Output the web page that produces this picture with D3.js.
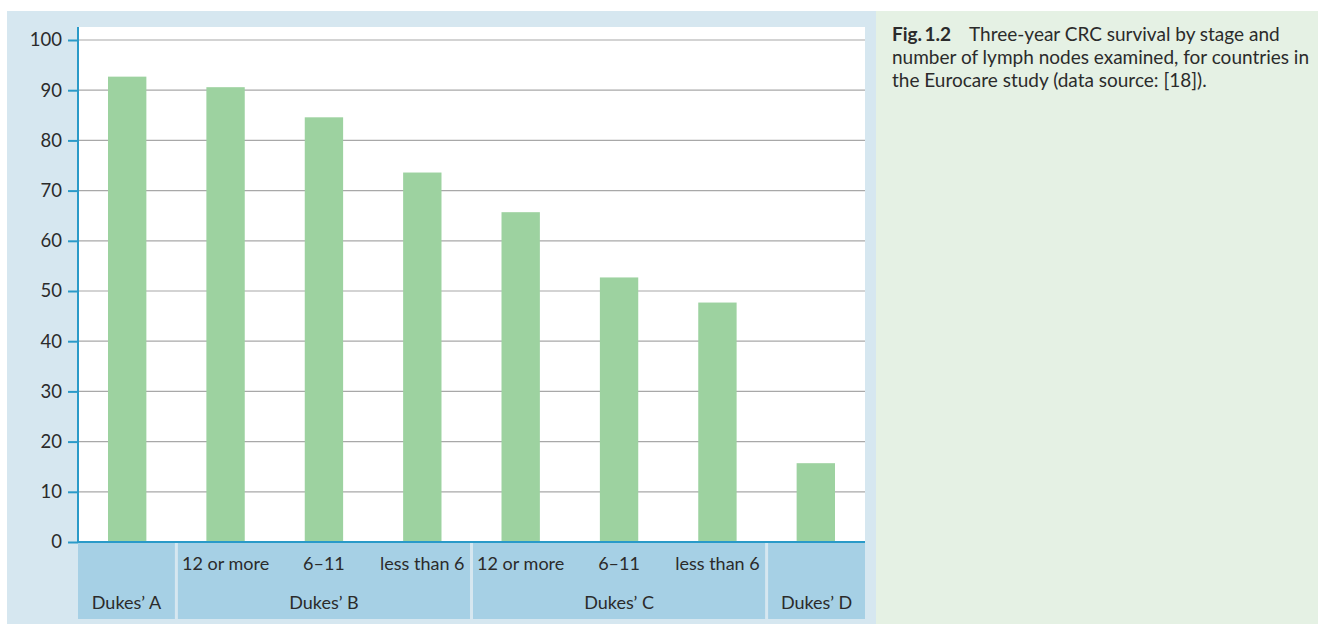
<!DOCTYPE html>
<html><head><meta charset="utf-8">
<script src="https://cdn.jsdelivr.net/npm/d3@7"></script>
<style>body{margin:0;background:#fff;}svg{display:block;font-family:Lato,sans-serif;}</style>
</head><body>
<script>
const subLabels = ["", "12 or more", "6–11", "less than 6", "12 or more", "6–11", "less than 6", ""];
const groups = [{name:"Dukes\u2019 A", from:0, to:0},{name:"Dukes\u2019 B", from:1, to:3},{name:"Dukes\u2019 C", from:4, to:6},{name:"Dukes\u2019 D", from:7, to:7}];
const values = [92.7, 90.6, 84.6, 73.6, 65.7, 52.7, 47.7, 15.7];
const yTicks = [0,10,20,30,40,50,60,70,80,90,100];
const caption = ["Three-year CRC survival by stage and","number of lymph nodes examined, for countries in","the Eurocare study (data source: [18])."];

const W=1318,H=624;
const svg=d3.select("body").append("svg").attr("width",W).attr("height",H);
svg.append("rect").attr("x",7).attr("y",11).attr("width",869).attr("height",613).attr("fill","#d6e7f0");
svg.append("rect").attr("x",876).attr("y",11).attr("width",442).attr("height",613).attr("fill","#e5f1e4");

const L=78,R=865,T=27,B=542;
svg.append("rect").attr("x",L).attr("y",T).attr("width",R-L).attr("height",B-T).attr("fill","#fff");
const idx=d3.range(values.length);
const x=d3.scaleBand().domain(idx).range([L,R]).paddingInner(0.61).paddingOuter(0.305);
const y=d3.scaleLinear().domain([0,100]).range([B,40]);

svg.append("g").selectAll("line").data(yTicks.filter(d=>d>0)).join("line")
 .attr("x1",L).attr("x2",R).attr("y1",d=>y(d)).attr("y2",d=>y(d))
 .attr("stroke","#a8a8a8").attr("stroke-width",1.2);

svg.append("g").selectAll("rect").data(values).join("rect")
 .attr("x",(d,i)=>x(i)).attr("width",x.bandwidth())
 .attr("y",d=>y(d)).attr("height",d=>y(0)-y(d)).attr("fill","#9dd2a0");

const step=x.step();
const cellX=i=>L+i*step;
const cells=svg.append("g");
groups.forEach((g,gi)=>{
  const x0=cellX(g.from)+(gi>0?1.5:0), x1=cellX(g.to+1)-(gi<groups.length-1?1.5:0);
  cells.append("rect").attr("x",x0).attr("y",B+1).attr("width",x1-x0).attr("height",619-B-1).attr("fill","#a6d0e5");
  cells.append("text").attr("x",(x0+x1)/2).attr("y",609).attr("text-anchor","middle")
   .attr("font-size",18).attr("fill","#2b2b2b").text(g.name);
});
cells.selectAll("text.sub").data(subLabels).join("text").attr("class","sub")
 .attr("x",(d,i)=>x(i)+x.bandwidth()/2).attr("y",570).attr("text-anchor","middle")
 .attr("font-size",18).attr("fill","#2b2b2b").text(d=>d);

const ax=svg.append("g").attr("transform",`translate(${L},0)`)
 .call(d3.axisLeft(y).tickValues(yTicks).tickSize(10).tickPadding(6));
ax.select(".domain").remove();
ax.selectAll(".tick line").attr("stroke","#2a9ac8").attr("stroke-width",2);
ax.selectAll(".tick text").attr("font-size",18.5).attr("fill","#2b2b2b").attr("font-family","Lato, sans-serif");
svg.append("line").attr("x1",L).attr("x2",L).attr("y1",T).attr("y2",B+1).attr("stroke","#2a9ac8").attr("stroke-width",2);
svg.append("line").attr("x1",L-1).attr("x2",R).attr("y1",B).attr("y2",B).attr("stroke","#2a9ac8").attr("stroke-width",2);

const cap=svg.append("text").attr("font-size",19).attr("fill","#2b2b2b");
caption.forEach((line,i)=>{
  const t=cap.append("tspan").attr("x",892).attr("y",41+i*23);
  if(i===0){t.append("tspan").attr("font-weight","bold").text("Fig.\u20091.2");t.append("tspan").attr("dx",18).text(line);}
  else t.text(line);
});
</script>
</body></html>
